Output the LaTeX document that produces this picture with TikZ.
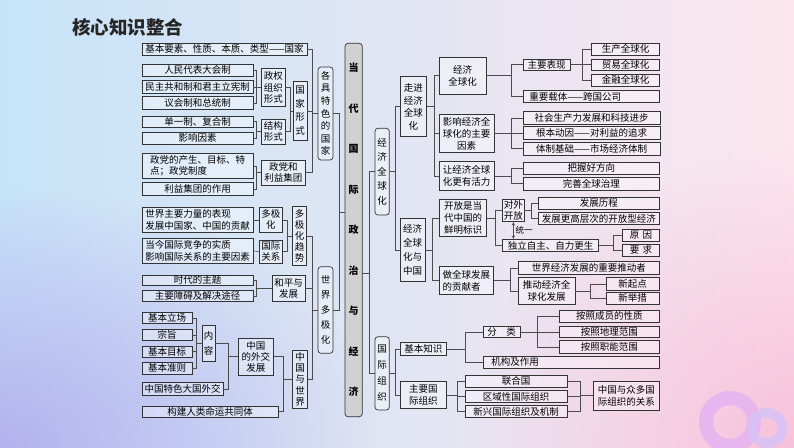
\documentclass[tikz,border=0pt]{standalone}
\usepackage{fontspec}
\setmainfont{Noto Sans CJK SC}
\usetikzlibrary{calc,fadings}
\tikzfading[name=myfade, inner color=transparent!0, outer color=transparent!100]
\definecolor{bgul}{HTML}{C6E4F8}
\definecolor{bgmid}{HTML}{E8EEFA}
\definecolor{bgur}{HTML}{FDE6EE}
\definecolor{bgll}{HTML}{B2ACEE}
\definecolor{bglr}{HTML}{F6BED8}
\definecolor{ringA}{HTML}{E2B2F2}
\definecolor{ringB}{HTML}{D6C2F8}
\definecolor{bordc}{HTML}{333333}
\tikzset{
  box/.style={draw=bordc, line width=0.7pt, fill=white, fill opacity=0.35, text opacity=1,
    inner sep=0.5pt, align=center, font=\fontsize{9.5}{11.5}\selectfont},
  vt/.style={font=\fontsize{9.5}{#1}\selectfont},
  rbox/.style={rounded corners=3pt},
  ln/.style={draw=black!70, line width=0.6pt},
}
\newcommand\bx[7][]{\node[box,minimum width={(#5)-(#3)},minimum height={(#6)-(#4)},#1] (#2) at ({((#3)+(#5))/2},{((#4)+(#6))/2}) {#7};}
\newcommand\lk[3]{\draw[ln] (#1.east) -| (#2 |- #3.west) -- (#3.west);}
\begin{document}
\begin{tikzpicture}[x=1pt,y=-1pt]
\useasboundingbox (0,0) rectangle (794,447);
\shade[left color=bgul, middle color=bgmid, right color=bgur] (0,0) rectangle (794,447);
\fill[bgll, path fading=myfade, opacity=0.9] (0,447) ellipse (380 and 260);
\fill[bglr, path fading=myfade, opacity=0.9] (794,447) ellipse (330 and 300);
% rings
\fill[ringA, opacity=0.8, even odd rule] (730,422) circle (31) (730,422) circle (17);
\fill[ringB, opacity=0.85, even odd rule] (767,428) circle (20) (767,428) circle (10.5);
% title
\node[font=\fontsize{18.5}{20}\selectfont\bfseries, text=black!85, inner sep=0pt] (title) at (127.5,27) {核心知识整合};

% ---------- left part ----------
\bx{n1}{142}{43}{307}{55}{基本要素、性质、本质、类型——国家}
\bx{n2}{142}{64}{253}{76.7}{人民代表大会制}
\bx{n3}{142}{80.7}{253}{93.3}{民主共和制和君主立宪制}
\bx{n4}{142}{96.7}{253}{109.3}{议会制和总统制}
\bx[vt=11.5]{n5}{261.7}{68.3}{285}{106.7}{政权\\组织\\形式}
\bx{n6}{142}{116}{253}{127.3}{单一制、复合制}
\bx{n7}{142}{132.7}{253}{144}{影响因素}
\bx[vt=11]{n8}{261.7}{119.3}{285}{144}{结构\\形式}
\bx[vt=13.5]{n9}{293}{81.7}{307}{140}{国\\家\\形\\式}
\bx[align=left]{n10}{142}{153.3}{253}{178.3}{政党的产生、目标、特\\点；政党制度}
\bx{n11}{142}{182.7}{253}{195}{利益集团的作用}
\bx[vt=11]{n12}{261.7}{160}{305}{185}{政党和\\利益集团}
\bx[rbox,vt=12.6]{n13}{318}{67}{333}{160}{各\\具\\特\\色\\的\\国\\家}

\bx[align=left]{n14}{142}{207.3}{253}{232.3}{世界主要力量的表现\\发展中国家、中国的贡献}
\bx[align=left]{n15}{142}{238.3}{253}{263.3}{当今国际竞争的实质\\影响国际关系的主要因素}
\bx[vt=11]{n16}{259}{207.3}{282.7}{232.3}{多极\\化}
\bx[vt=11]{n17}{259}{240}{282.7}{263.3}{国际\\关系}
\bx[vt=11.2]{n18}{292.7}{206.7}{306.7}{265}{多\\极\\化\\趋\\势}
\bx{n19}{142}{275}{253}{285.7}{时代的主题}
\bx{n20}{142}{290.7}{253}{301.7}{主要障碍及解决途径}
\bx[vt=11]{n21}{272.3}{275}{305}{301}{和平与\\发展}
\bx[rbox,vt=15]{n22}{318}{266.7}{333}{353.3}{世\\界\\多\\极\\化}
\bx{n23}{142}{312.3}{192}{323.3}{基本立场}
\bx{n24}{142}{329}{192}{340.7}{宗旨}
\bx{n25}{142}{346}{192}{357.3}{基本目标}
\bx{n26}{142}{362.7}{192}{374}{基本准则}
\bx[vt=15]{n27}{202.3}{325}{215}{361.7}{内\\容}
\bx{n28}{142}{382.7}{223.3}{395}{中国特色大国外交}
\bx[vt=11]{n29}{238.3}{338.3}{273.3}{375}{中国\\的外交\\发展}
\bx{n30}{142}{406}{278.3}{417.3}{构建人类命运共同体}
\bx[vt=11.3]{n31}{292.7}{350}{307.7}{408.3}{中\\国\\与\\世\\界}

% ---------- main ----------
\bx[rbox,fill=black!18,fill opacity=1,font=\fontsize{10}{40.5}\selectfont\bfseries]{main}{345}{43.3}{362.3}{416.7}{当\\代\\国\\际\\政\\治\\与\\经\\济}
\coordinate (mL) at (345,212);
\coordinate (mR) at (362.3,273);

% ---------- right part ----------
\bx[rbox,vt=14.5]{r1}{375}{128.3}{389.3}{215}{经\\济\\全\\球\\化}
\bx[rbox,vt=16]{r2}{375}{336.7}{389.3}{410}{国\\际\\组\\织}
\bx[vt=12.5]{r3}{400}{76.7}{426.7}{136.7}{走进\\经济\\全球\\化}
\bx[vt=14]{r4}{400}{218.3}{425}{281.7}{经济\\全球\\化与\\中国}
\bx[vt=12.5]{r5}{439.3}{57.3}{486}{94}{经济\\全球化}
\bx{r6}{523.3}{59}{570}{70}{主要表现}
\bx{r7}{591.7}{43.3}{659.3}{55}{生产全球化}
\bx{r8}{591.7}{59}{659.3}{70}{贸易全球化}
\bx{r9}{591.7}{74}{659.3}{86}{金融全球化}
\bx[text width=128pt,align=left]{r10}{523.3}{90.7}{659.3}{102.7}{\hspace{2pt}重要载体——跨国公司}
\bx[vt=12]{r11}{439.3}{114}{494}{152.7}{影响经济全\\球化的主要\\因素}
\bx{r12}{523.3}{111.7}{660}{124}{社会生产力发展和科技进步}
\bx{r13}{523.3}{126.7}{660}{139}{根本动因——对利益的追求}
\bx{r14}{523.3}{142.3}{660}{155}{体制基础——市场经济体制}
\bx[vt=12]{r15}{439.3}{161.7}{494}{190}{让经济全球\\化更有活力}
\bx{r16}{523.3}{162}{659.3}{174.7}{把握好方向}
\bx{r17}{523.3}{177.3}{659.3}{190}{完善全球治理}
\bx[vt=12]{r18}{439.3}{199}{486.7}{236.7}{开放是当\\代中国的\\鲜明标识}
\bx[vt=10.5]{r19}{502.7}{199}{524}{221.7}{对外\\开放}
\bx{r20}{538.3}{197.3}{659.3}{209.3}{发展历程}
\bx{r21}{538.3}{212.7}{659.3}{224.3}{发展更高层次的开放型经济}
\bx{r22}{502.7}{239.3}{598.3}{251.7}{独立自主、自力更生}
\bx{r23}{622.7}{229.3}{659.3}{241}{原\,\,因}
\bx{r24}{622.7}{244.3}{659.3}{256}{要\,\,求}
\bx[vt=12,align=left]{r25}{439.3}{266.7}{493.3}{294.3}{做全球发展\\的贡献者}
\bx{r26}{518.3}{261.7}{659.3}{274}{世界经济发展的重要推动者}
\bx[vt=12]{r27}{518.3}{277.7}{575}{304.3}{推动经济全\\球化发展}
\bx{r28}{606}{277.7}{659.3}{290}{新起点}
\bx{r29}{606}{292.3}{659.3}{304.3}{新举措}
\bx{r30}{400.7}{342.7}{446}{355}{基本知识}
\bx[vt=12]{r31}{400.7}{381.7}{446}{408.3}{主要国\\际组织}
\bx{r32}{483.3}{326}{520}{337.7}{分\quad 类}
\bx{r33}{559.3}{310}{659.3}{322.3}{按照成员的性质}
\bx{r34}{559.3}{326}{659.3}{337.7}{按照地理范围}
\bx{r35}{559.3}{340.7}{659.3}{353.3}{按照职能范围}
\bx[text width=168pt,align=left]{r36}{483.3}{356}{659.3}{368.3}{\hspace{4pt}机构及作用}
\bx{r37}{465}{375}{567.3}{387.3}{联合国}
\bx{r38}{465}{390.7}{567.3}{402.3}{区域性国际组织}
\bx{r39}{465}{405.7}{567.3}{417.7}{新兴国际组织及机制}
\bx[vt=12]{r40}{593.3}{381}{659.3}{410}{中国与众多国\\际组织的关系}

% ---------- bracket coordinates ----------
\coordinate (kA) at (256.7,0);
\coordinate (kC) at (290,0);
\coordinate (kD) at (312,0);
\coordinate (kF) at (287.5,0);
\coordinate (kI) at (196.5,0);
\coordinate (kJ) at (228.3,0);
\coordinate (kK) at (283.3,0);
\coordinate (kL) at (339.3,0);
\coordinate (kM) at (369.3,0);
\coordinate (kN) at (395,0);
\coordinate (kO) at (434,0);
\coordinate (kP) at (511.7,0);
\coordinate (kQ) at (582.7,0);
\coordinate (kT) at (432.7,0);
\coordinate (kU) at (495,0);
\coordinate (kV) at (531.7,0);
\coordinate (kW) at (613.3,0);
\coordinate (kX) at (510,0);
\coordinate (kY) at (590.7,0);
\coordinate (ka) at (465,0);
\coordinate (kb) at (537.3,0);
\coordinate (kc) at (457.3,0);
\coordinate (kd) at (580,0);

% ---------- left connectors ----------
\lk{n2}{kA}{n5} \lk{n3}{kA}{n5} \lk{n4}{kA}{n5}
\lk{n6}{kA}{n8} \lk{n7}{kA}{n8}
\lk{n5}{kC}{n9} \lk{n8}{kC}{n9}
\lk{n1}{kD}{n13} \lk{n9}{kD}{n13} \lk{n12}{kD}{n13}
\lk{n10}{kA}{n12} \lk{n11}{kA}{n12}
\draw[ln] (n14.east) -- (n16.west);
\draw[ln] (n15.east) -- (n17.west);
\lk{n16}{kF}{n18} \lk{n17}{kF}{n18}
\lk{n19}{kA}{n21} \lk{n20}{kA}{n21}
\lk{n18}{kD}{n22} \lk{n21}{kD}{n22} \lk{n31}{kD}{n22}
\lk{n23}{kI}{n27} \lk{n24}{kI}{n27} \lk{n25}{kI}{n27} \lk{n26}{kI}{n27}
\lk{n27}{kJ}{n29} \lk{n28}{kJ}{n29}
\lk{n29}{kK}{n31} \lk{n30}{kK}{n31}
\draw[ln] (n13.east) -| (kL |- mL) -- (mL);
\draw[ln] (n22.east) -| (kL |- mL) -- (mL);

% ---------- right connectors ----------
\draw[ln] (mR) -| (kM |- r1.west) -- (r1.west);
\draw[ln] (mR) -| (kM |- r2.west) -- (r2.west);
\lk{r1}{kN}{r3} \lk{r1}{kN}{r4}
\lk{r3}{kO}{r5} \lk{r3}{kO}{r11} \lk{r3}{kO}{r15}
\lk{r5}{kP}{r6} \lk{r5}{kP}{r10}
\lk{r6}{kQ}{r7} \lk{r6}{kQ}{r8} \lk{r6}{kQ}{r9}
\lk{r11}{kP}{r12} \lk{r11}{kP}{r13} \lk{r11}{kP}{r14}
\lk{r15}{kP}{r16} \lk{r15}{kP}{r17}
\lk{r4}{kT}{r18} \lk{r4}{kT}{r25}
\lk{r18}{kU}{r19} \lk{r18}{kU}{r22}
\lk{r19}{kV}{r20} \lk{r19}{kV}{r21}
\lk{r22}{kW}{r23} \lk{r22}{kW}{r24}
\lk{r25}{kX}{r26} \lk{r25}{kX}{r27}
\lk{r27}{kY}{r28} \lk{r27}{kY}{r29}
\lk{r2}{kN}{r30} \lk{r2}{kN}{r31}
\lk{r30}{ka}{r32} \lk{r30}{ka}{r36}
\lk{r32}{kb}{r33} \lk{r32}{kb}{r34} \lk{r32}{kb}{r35}
\lk{r31}{kc}{r37} \lk{r31}{kc}{r38} \lk{r31}{kc}{r39}
\lk{r37}{kd}{r40} \lk{r38}{kd}{r40} \lk{r39}{kd}{r40}
% unity arrow
\draw[ln,<->,>=stealth] (r19.south) -- (r19.south |- r22.north)
  node[midway,right,font=\fontsize{8.5}{9}\selectfont,inner sep=2pt] (tongyi) {统一};
\end{tikzpicture}
\end{document}
